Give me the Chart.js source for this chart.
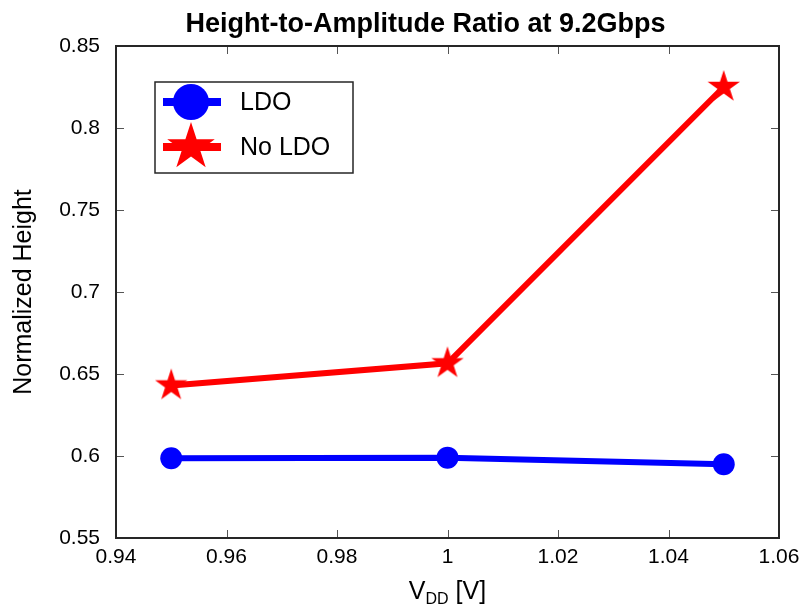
<!DOCTYPE html>
<html>
<head>
<meta charset="utf-8">
<script src="https://cdn.jsdelivr.net/npm/chart.js@4/dist/chart.umd.min.js"></script>
<style>
  html, body { margin: 0; padding: 0; background: #fff; }
  #wrap { width: 802px; height: 608px; }
</style>
</head>
<body>
<div id="wrap"><canvas id="c" width="802" height="608"></canvas></div>
<script>
// Supply voltage sweep (V)
const vdd = [0.95, 1.0, 1.05];
// Normalized eye height for each supply configuration
const ldoHeight = [0.5986, 0.599, 0.595];
const noLdoHeight = [0.643, 0.6565, 0.825];
// Axis tick values
const xTicks = [0.94, 0.96, 0.98, 1.0, 1.02, 1.04, 1.06];
const yTicks = [0.55, 0.6, 0.65, 0.7, 0.75, 0.8, 0.85];

const FONT = '"Liberation Sans", Arial, Helvetica, sans-serif';
const BLUE = '#0000ff';
const RED = '#ff0000';

function drawStar(ctx, cx, cy, R) {
  const r = R * 0.382;
  ctx.beginPath();
  for (let i = 0; i < 10; i++) {
    const rad = i % 2 === 0 ? R : r;
    const a = -Math.PI / 2 + i * Math.PI / 5;
    const x = cx + rad * Math.cos(a), y = cy + rad * Math.sin(a);
    if (i === 0) ctx.moveTo(x, y); else ctx.lineTo(x, y);
  }
  ctx.closePath();
  ctx.fill();
}

function starImage(R) {
  const s = Math.ceil(R * 2 + 2);
  const cv = document.createElement('canvas');
  cv.width = s; cv.height = s;
  const g = cv.getContext('2d');
  g.fillStyle = RED;
  drawStar(g, s / 2, s / 2, R);
  return cv;
}

const fmt = v => String(Number(v.toFixed(2)));

// Box frame with inward ticks on all four sides
const framePlugin = {
  id: 'frame',
  afterDatasetsDraw(chart) {
    const { ctx, chartArea: a, scales } = chart;
    ctx.save();
    ctx.strokeStyle = '#555';
    ctx.lineWidth = 1;
    const tl = 8;
    xTicks.forEach(v => {
      const x = Math.round(scales.x.getPixelForValue(v)) + 0.5;
      ctx.beginPath();
      ctx.moveTo(x, a.bottom); ctx.lineTo(x, a.bottom - tl);
      ctx.moveTo(x, a.top); ctx.lineTo(x, a.top + tl);
      ctx.stroke();
    });
    yTicks.forEach(v => {
      const y = Math.round(scales.y.getPixelForValue(v)) + 0.5;
      ctx.beginPath();
      ctx.moveTo(a.left, y); ctx.lineTo(a.left + tl, y);
      ctx.moveTo(a.right, y); ctx.lineTo(a.right - tl, y);
      ctx.stroke();
    });
    ctx.strokeStyle = '#262626';
    ctx.lineWidth = 2;
    ctx.strokeRect(a.left, a.top, a.right - a.left, a.bottom - a.top);
    ctx.restore();
  },
  afterDraw(chart) {
    const { ctx, chartArea: a } = chart;
    ctx.save();
    ctx.fillStyle = '#000';
    // Title
    ctx.font = 'bold 27px ' + FONT;
    ctx.textAlign = 'center';
    ctx.textBaseline = 'alphabetic';
    ctx.fillText('Height-to-Amplitude Ratio at 9.2Gbps', 425.5, 31.5);
    // Y axis title
    ctx.save();
    ctx.translate(24, (a.top + a.bottom) / 2);
    ctx.rotate(-Math.PI / 2);
    ctx.font = '25px ' + FONT;
    ctx.textBaseline = 'middle';
    ctx.fillText('Normalized Height', 0, 0);
    ctx.restore();
    // X axis title: V_DD [V]
    const big = '25px ' + FONT, small = '16px ' + FONT;
    ctx.textAlign = 'left';
    ctx.font = big; const wV = ctx.measureText('V').width;
    const wU = ctx.measureText(' [V]').width;
    ctx.font = small; const wD = ctx.measureText('DD').width;
    let x0 = (a.left + a.right) / 2 - (wV + wD + wU) / 2;
    const base = 599;
    ctx.font = big; ctx.fillText('V', x0, base);
    ctx.font = small; ctx.fillText('DD', x0 + wV, base + 5);
    ctx.font = big; ctx.fillText(' [V]', x0 + wV + wD, base);

    // Legend box
    const lx = 155, ly = 82, lw = 198, lh = 91;
    ctx.fillStyle = '#fff';
    ctx.fillRect(lx, ly, lw, lh);
    ctx.strokeStyle = '#262626';
    ctx.lineWidth = 1.5;
    ctx.strokeRect(lx, ly, lw, lh);
    const rows = [
      { label: 'LDO', color: BLUE, y: 102, marker: 'circle' },
      { label: 'No LDO', color: RED, y: 147, marker: 'star' }
    ];
    rows.forEach(r => {
      ctx.strokeStyle = r.color;
      ctx.lineWidth = 8;
      ctx.beginPath();
      ctx.moveTo(163, r.y); ctx.lineTo(221, r.y);
      ctx.stroke();
      ctx.fillStyle = r.color;
      if (r.marker === 'circle') {
        ctx.beginPath(); ctx.arc(191, r.y, 18, 0, Math.PI * 2); ctx.fill();
      } else {
        drawStar(ctx, 191, r.y, 25);
      }
      ctx.fillStyle = '#000';
      ctx.font = '25px ' + FONT;
      ctx.textBaseline = 'middle';
      ctx.fillText(r.label, 240, r.y + 1);
    });
    ctx.restore();
  }
};

new Chart(document.getElementById('c'), {
  type: 'line',
  data: {
    datasets: [
      {
        label: 'LDO',
        data: vdd.map((v, i) => ({ x: v, y: ldoHeight[i] })),
        borderColor: BLUE,
        backgroundColor: BLUE,
        borderWidth: 6,
        pointStyle: 'circle',
        pointRadius: 11,
        pointHoverRadius: 11,
        pointBorderWidth: 0,
        tension: 0
      },
      {
        label: 'No LDO',
        data: vdd.map((v, i) => ({ x: v, y: noLdoHeight[i] })),
        borderColor: RED,
        backgroundColor: RED,
        borderWidth: 6,
        pointStyle: starImage(17),
        pointRadius: 17,
        pointHoverRadius: 17,
        tension: 0
      }
    ]
  },
  options: {
    responsive: false,
    animation: false,
    devicePixelRatio: 1,
    clip: false,
    layout: { padding: { top: 46, right: 21, left: 0, bottom: 0 } },
    plugins: {
      legend: { display: false },
      title: { display: false },
      tooltip: { enabled: false }
    },
    scales: {
      x: {
        type: 'linear',
        min: 0.94, max: 1.06,
        afterBuildTicks: s => { s.ticks = xTicks.map(v => ({ value: v })); },
        afterFit: s => { s.height = 70; s.paddingLeft = 0; s.paddingRight = 0; },
        grid: { display: false, drawTicks: false },
        border: { display: false },
        ticks: {
          callback: v => fmt(v),
          color: '#000',
          font: { family: FONT, size: 21 },
          padding: 7,
          maxRotation: 0
        }
      },
      y: {
        type: 'linear',
        min: 0.55, max: 0.85,
        afterBuildTicks: s => { s.ticks = yTicks.map(v => ({ value: v })); },
        afterFit: s => { s.width = 116; s.paddingTop = 0; s.paddingBottom = 0; },
        grid: { display: false, drawTicks: false },
        border: { display: false },
        ticks: {
          callback: v => fmt(v),
          color: '#000',
          font: { family: FONT, size: 21 },
          padding: 16
        }
      }
    }
  },
  plugins: [framePlugin]
});
</script>
</body>
</html>
